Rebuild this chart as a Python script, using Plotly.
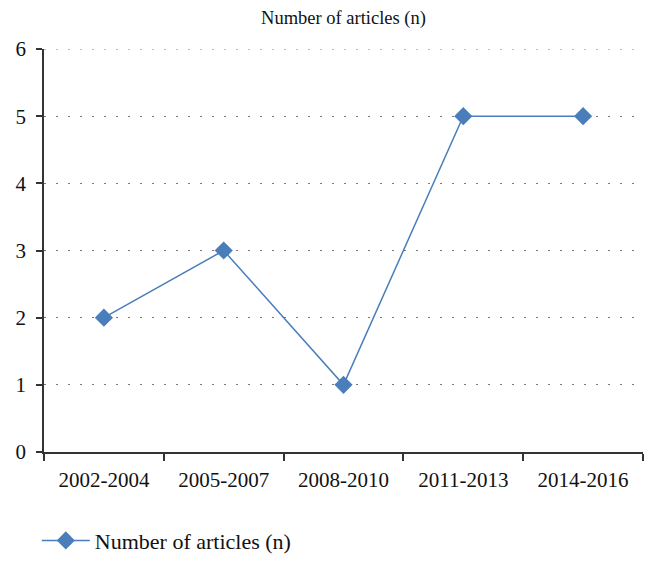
import plotly.graph_objects as go

categories = ["2002-2004", "2005-2007", "2008-2010", "2011-2013", "2014-2016"]
values = [2, 3, 1, 5, 5]
series_name = "Number of articles (n)"
title_text = "Number of articles (n)"
y_max = 6

FONT = "Liberation Serif"
COLOR = "#4A7EBB"
GRID = "#777777"

fig = go.Figure()
fig.add_trace(go.Scatter(
    x=categories, y=values, name=series_name, mode="lines+markers",
    line=dict(color=COLOR, width=1.5),
    marker=dict(symbol="diamond", size=14, color=COLOR),
))
# top gridline (plotly culls gridlines at the range edge)
fig.add_hline(y=y_max, line=dict(color=GRID, width=1, dash="2px,10px"), layer="below")

fig.update_layout(
    width=657, height=565,
    margin=dict(l=44, r=14, t=49, b=113, autoexpand=False),
    paper_bgcolor="white", plot_bgcolor="white",
    font=dict(family=FONT, size=21, color="#111111"),
    title=dict(text=title_text, x=0.5, xanchor="center", xref="paper",
               y=1 - 18 / 565, yanchor="middle", yref="container",
               font=dict(family=FONT, size=18.5, color="#111111")),
    showlegend=True,
    legend=dict(orientation="h", x=-0.012, xanchor="left", y=-0.22, yanchor="middle",
                itemwidth=48,
                font=dict(family=FONT, size=22, color="#111111"),
                bgcolor="rgba(0,0,0,0)"),
)
fig.update_xaxes(
    type="category", range=[-0.5, 4.5],
    showline=True, linecolor="#333333", linewidth=1.5,
    ticks="outside", tickson="boundaries", ticklen=7, tickcolor="#333333", tickwidth=1.5,
    ticklabelstandoff=8,
    showgrid=False, zeroline=False, automargin=False,
    tickfont=dict(family=FONT, size=21, color="#111111"),
)
fig.update_yaxes(
    range=[0, y_max], dtick=1, tick0=0,
    showline=True, linecolor="#333333", linewidth=1.5,
    ticks="outside", ticklen=6, tickcolor="#333333", tickwidth=1.5,
    ticklabelstandoff=6,
    showgrid=True, gridcolor=GRID, gridwidth=1, griddash="2px,10px",
    zeroline=False, automargin=False,
    tickfont=dict(family=FONT, size=21, color="#111111"),
)

fig.write_html("out.html", config={"displayModeBar": False},
               post_script="document.body.style.margin='0';")
